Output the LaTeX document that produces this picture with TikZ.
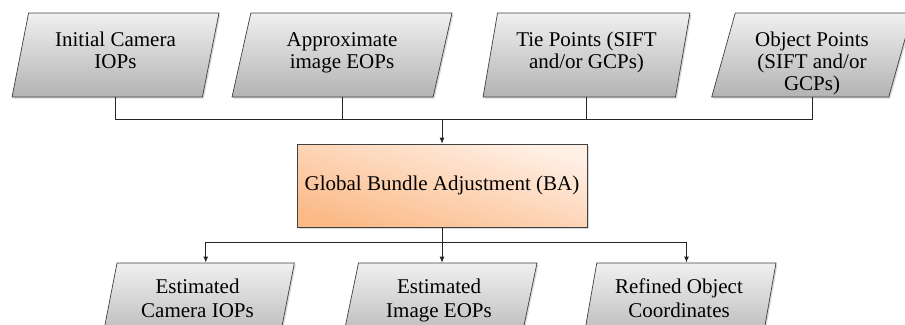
\documentclass[tikz,border=0pt]{standalone}
\usepackage{fontspec}
\setmainfont{Liberation Serif}
\usepackage{tikz}
\usetikzlibrary{arrows.meta}
\usetikzlibrary{positioning}
\usetikzlibrary{shapes,shadows}

\definecolor{iotop}{HTML}{F0F0F0}
\definecolor{iobottom}{HTML}{B3B3B3}
\definecolor{balight}{HTML}{FFF0E6}
\definecolor{badark}{HTML}{FBBA87}

\tikzset{
    datain/.style={
           trapezium,
           trapezium left angle=76,
           trapezium right angle=104,
           trapezium stretches=true,
           draw=black!75, line width=0.7pt,
           top color=iotop, bottom color=iobottom,
           drop shadow={shadow xshift=1.5pt,shadow yshift=-1.5pt,opacity=0.3},
           minimum height=84pt,
           inner sep=0pt,
           align=center,
           font=\fontsize{21}{22}\selectfont,
           text height=36pt, text depth=10pt,
           },
    dataout/.style={
           datain,
           font=\fontsize{21}{24}\selectfont,
           text height=35pt, text depth=11pt,
           },
    process/.style={
           rectangle,
           draw=black!75, line width=0.7pt,
           top color=balight, bottom color=badark, shading angle=-16,
           drop shadow={shadow xshift=1.5pt,shadow yshift=-1.5pt,opacity=0.3},
           minimum width=290pt,
           minimum height=83pt,
           font=\fontsize{21}{22}\selectfont,
           },
}

\begin{document}
\begin{tikzpicture}
[
>={Latex[length=6pt,width=5pt]},
line width=0.8pt, draw=black!85
]

 \useasboundingbox (0,0) rectangle (905pt,-324pt);
 \clip (0,0) rectangle (905pt,-324pt);

 % INPUTS
 \node[datain,
 minimum width=207pt] (INCAM) at (115.5pt,-55pt)
 {%
Initial Camera\\IOPs
 };

 \node[datain,
 right of=INCAM,
 node distance=226.5pt,
 minimum width=220pt] (INEOP)
 {%
Approximate\\image EOPs
 };

 \node[datain,
 right of=INEOP,
 node distance=244.5pt,
 minimum width=207pt] (TIEPTS)
 {%
Tie Points (SIFT\\and/or GCPs)
 };

 % three lines here, so the text box sits higher
 \node[datain,
 right of=TIEPTS,
 node distance=225.5pt,
 text height=70pt, text depth=0pt,
 minimum width=201pt] (OBJPTS)
 {%
Object Points\\(SIFT and/or\\GCPs)
 };

 % BUNDLE ADJUSTMENT
 \node[process] (BUNDLE) at (442pt,-185.5pt)
 {%
Global Bundle Adjustment (BA)
 };

 % OUTPUTS
 \node[dataout,
 below of=BUNDLE,
 node distance=119.5pt,
 xshift=-3pt,
 minimum width=196pt] (OUTEOP)
 {%
Estimated\\Image EOPs
 };

 \node[dataout,
 left of=OUTEOP,
 node distance=241.5pt,
 minimum width=194pt] (OUTIOP)
 {%
Estimated\\Camera IOPs
 };

 \node[dataout,
 right of=OUTEOP,
 node distance=240pt,
 minimum width=194pt] (OUTOBJ)
 {%
Refined Object\\Coordinates
 };

 % the two busses
 \coordinate (JOIN) at ([yshift=24pt]BUNDLE.north);
 \coordinate (SPLIT) at ([yshift=-15pt]BUNDLE.south);

 \draw (INCAM.south) |- (JOIN) -| (OBJPTS.south);
 \draw (INEOP.south) -- (INEOP.south |- JOIN);
 \draw (TIEPTS.south) -- (TIEPTS.south |- JOIN);
 \draw[->] (JOIN) -- (BUNDLE.north);

 \draw[->] (BUNDLE.south) -- (BUNDLE.south |- OUTEOP.top side);
 \draw[->,line width=1.3pt] (SPLIT) -| (OUTIOP.top side);
 \draw[->,line width=1.3pt] (SPLIT) -| (OUTOBJ.top side);

\end{tikzpicture}
\end{document}
